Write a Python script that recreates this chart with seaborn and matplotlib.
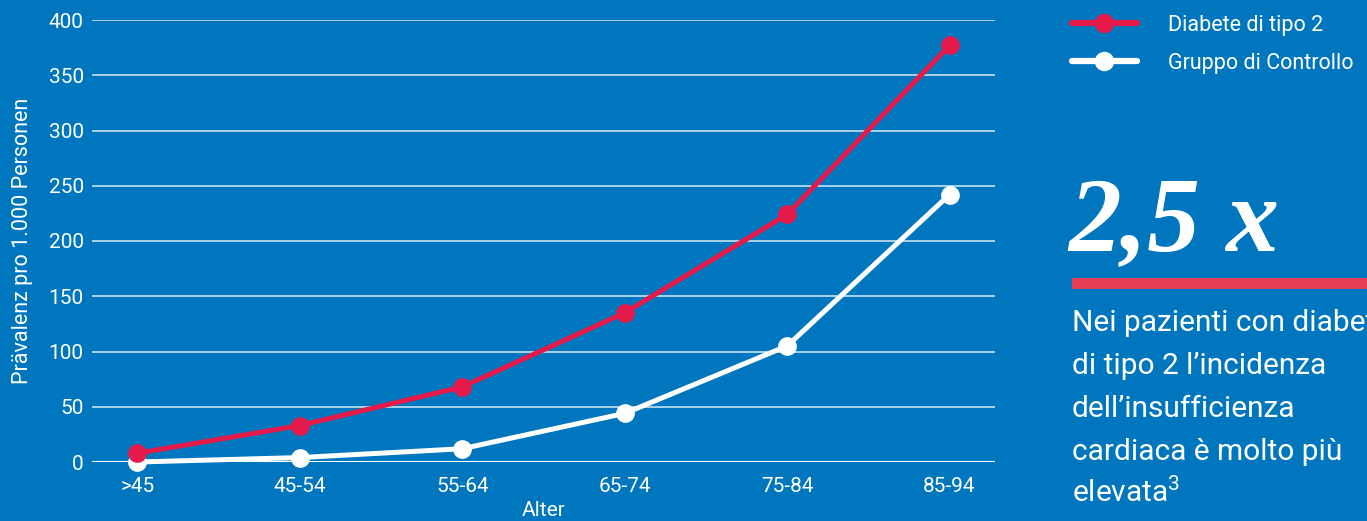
import matplotlib
matplotlib.use("Agg")
import matplotlib.pyplot as plt
from matplotlib.lines import Line2D
import seaborn as sns
import pandas as pd

# ---- data ----
age_groups = [">45", "45-54", "55-64", "65-74", "75-84", "85-94"]
diabetes_t2 = [8, 33, 68, 135, 224, 377]
control_group = [0, 4, 12, 44, 105, 242]
series_names = ["Diabete di tipo 2", "Gruppo di Controllo"]
y_ticks = [0, 50, 100, 150, 200, 250, 300, 350, 400]

BG = "#0076BE"
RED = "#E5194A"
BAR_RED = "#E63D57"
WHITE = "#FFFFFF"

sns.set_theme(style="white")
plt.rcParams["font.family"] = ["Roboto", "DejaVu Sans"]
plt.rcParams["mathtext.fontset"] = "custom"
plt.rcParams["mathtext.rm"] = "Roboto"

df = pd.DataFrame({
    "Alter": age_groups * 2,
    "value": diabetes_t2 + control_group,
    "series": [series_names[0]] * len(age_groups) + [series_names[1]] * len(age_groups),
})

fig = plt.figure(figsize=(13.67, 5.21), dpi=100, facecolor=BG)
ax = fig.add_axes([92 / 1367, 59 / 521, 903 / 1367, 442 / 521])
ax.set_facecolor(BG)

# grid
for t in y_ticks[1:]:
    ax.axhline(t, color=WHITE, lw=1.3, alpha=0.72, zorder=1)
ax.axhline(0, color=WHITE, lw=2.2, zorder=1)

# control first so red is on top
sns.lineplot(data=df[df.series == series_names[1]], x="Alter", y="value",
             color=WHITE, lw=3.6, marker="o", markersize=13.5, markeredgewidth=0,
             sort=False, ax=ax, zorder=3, clip_on=False, legend=False)
sns.lineplot(data=df[df.series == series_names[0]], x="Alter", y="value",
             color=RED, lw=3.6, marker="o", markersize=13.5, markeredgewidth=0,
             sort=False, ax=ax, zorder=4, clip_on=False, legend=False)

ax.set_xlim(-0.28, 5.28)
ax.set_ylim(0, 400)
ax.set_yticks(y_ticks)
ax.set_yticklabels([str(t) for t in y_ticks])
for s in ax.spines.values():
    s.set_visible(False)
ax.tick_params(axis="both", length=0, colors=WHITE, labelsize=15)
ax.tick_params(axis="y", pad=6)
ax.tick_params(axis="x", pad=11)
ax.set_xlabel("Alter", color=WHITE, fontsize=15, labelpad=3.5)
ax.set_ylabel("Prävalenz pro 1.000 Personen", color=WHITE, fontsize=15.5, labelpad=11)

# legend
handles = [
    Line2D([], [], color=RED, lw=4.5, marker="o", markersize=14, markeredgewidth=0),
    Line2D([], [], color=WHITE, lw=4.5, marker="o", markersize=14, markeredgewidth=0),
]
leg = fig.legend(handles, series_names, loc="upper left",
                 bbox_to_anchor=(1072 / 1367, 1 - 15 / 521), frameon=False,
                 fontsize=15.5, handlelength=3.0, handletextpad=1.45,
                 labelspacing=0.78, borderpad=0, borderaxespad=0)
for t in leg.get_texts():
    t.set_color(WHITE)

# side annotation
fig.text(1068 / 1367, 1 - 251 / 521, "2,5 x", color=WHITE, fontsize=76,
         family="Liberation Serif", style="italic", weight="bold",
         ha="left", va="baseline")
fig.patches.append(plt.Rectangle((1072 / 1367, 1 - 289 / 521), 300 / 1367, 11 / 521,
                                 transform=fig.transFigure, color=BAR_RED, lw=0))
para = ["Nei pazienti con diabete", "di tipo 2 l\u2019incidenza",
        "dell\u2019insufficienza", "cardiaca è molto più", "elevata$^{\\mathrm{3}}$"]
for i, line in enumerate(para):
    fig.text(1072 / 1367, 1 - (331 + i * 43) / 521, line, color=WHITE,
             fontsize=21.5, ha="left", va="baseline")

fig.savefig("out.png", dpi=100, facecolor=BG)
